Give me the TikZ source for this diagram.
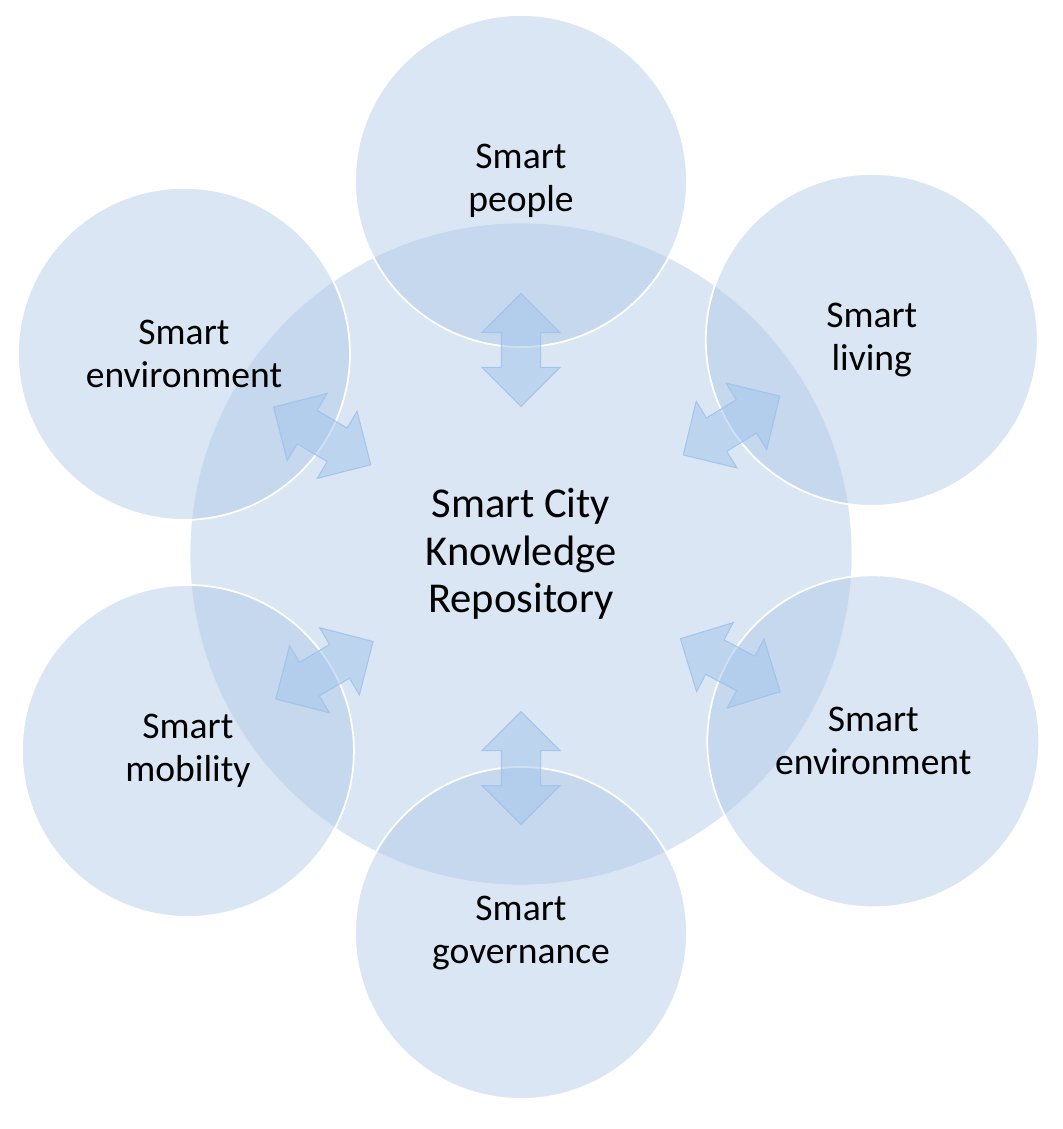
\documentclass[tikz,border=0pt]{standalone}
\usepackage{fontspec}
\setmainfont{Carlito}
\usetikzlibrary{shapes.arrows}
\definecolor{ringblue}{RGB}{170,197,230}
\definecolor{linkblue}{RGB}{160,195,235}

\begin{document}
\begin{tikzpicture}[
    hub/.style={%
      circle,
      draw=white,
      line width=1pt,
      fill=ringblue,
      fill opacity=0.43,
      text opacity=1,
      minimum size=13.26cm,
      inner sep=0pt,
      align=center,
      font=\fontsize{24.2}{27}\selectfont,
    },
    area/.style={%
      hub,
      minimum size=6.64cm,
      font=\fontsize{21.4}{24.5}\selectfont,
    },
    link/.style={%
      double arrow,
      draw=linkblue,
      draw opacity=0.9,
      fill=linkblue,
      fill opacity=0.5,
      line width=0.6pt,
      minimum height=2.26cm,
      inner xsep=0pt,
      inner ysep=0.38cm,
      double arrow head extend=0.39cm,
      sloped,
    },
  ]

    \useasboundingbox (0,0) rectangle (21.24,22.58);

    \node [hub] (hub) at (10.42,11.5) {Smart City\\Knowledge\\Repository};
    \path (hub.center) ++(90:7.46) node [area] (people) {Smart\\people};
    \path (hub.center) ++(31.4:8.22) node [area] (living) {Smart\\living};
    \path (hub.center) ++(-28:7.98) node [area] (envR) {Smart\\environment};
    \path (hub.center) ++(-90:7.58) node [area] (gov) {Smart\\governance};
    \path (hub.center) ++(-149.4:7.74) node [area] (mobility) {Smart\\mobility};
    \path (hub.center) ++(149.3:7.84) node [area] (envL) {Smart\\environment};

    \path (hub.center) -- (people.center) node [link,pos=0.547] (linkA) {};
    \path (hub.center) -- (living.center) node [link,pos=0.60] (linkB) {};
    \path (hub.center) -- (envR.center) node [link,pos=0.594] (linkC) {};
    \path (hub.center) -- (gov.center) node [link,pos=0.565] (linkD) {};
    \path (hub.center) -- (mobility.center) node [link,pos=0.59] (linkE) {};
    \path (hub.center) -- (envL.center) node [link,pos=0.59] (linkF) {};
\end{tikzpicture}
\end{document}
